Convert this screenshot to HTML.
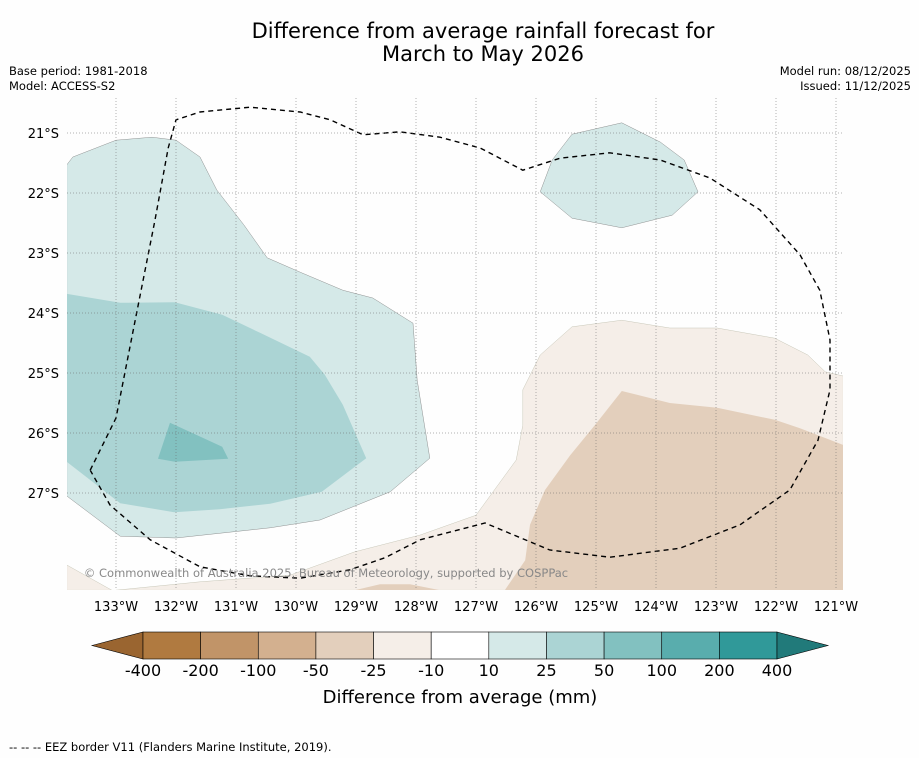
<!DOCTYPE html>
<html><head><meta charset="utf-8"><style>
body{margin:0;background:#fff;width:919px;height:758px;overflow:hidden;font-family:"Liberation Sans","DejaVu Sans",sans-serif}
</style></head><body>
<svg id="chart" width="919" height="758" xmlns="http://www.w3.org/2000/svg" font-family="'DejaVu Sans','Liberation Sans',sans-serif">
<rect width="919" height="758" fill="#fefefe"/>
<text x="483" y="38" font-size="21" text-anchor="middle">Difference from average rainfall forecast for</text>
<text x="483" y="61" font-size="21" text-anchor="middle">March to May 2026</text>
<text x="9" y="75" font-size="11.5">Base period: 1981-2018</text>
<text x="9" y="90" font-size="11.5">Model: ACCESS-S2</text>
<text x="911" y="75" font-size="11.5" text-anchor="end">Model run: 08/12/2025</text>
<text x="911" y="90" font-size="11.5" text-anchor="end">Issued: 11/12/2025</text>
<defs><clipPath id="mapclip"><rect x="67" y="98" width="776" height="492"/></clipPath></defs>
<g id="map" clip-path="url(#mapclip)"></g>
<g id="grid"></g>
<g id="axes"></g>
<text x="326" y="577" font-size="11.5" fill="#888" text-anchor="middle">© Commonwealth of Australia 2025, Bureau of Meteorology, supported by COSPPac</text>
<g id="cbar"></g>
<text x="460" y="703" font-size="18" text-anchor="middle">Difference from average (mm)</text>
<text x="9" y="751" font-size="11.5">--  --  -- EEZ border V11 (Flanders Marine Institute, 2019).</text>
</svg>
<script>
const lonTicks=[-133,-132,-131,-130,-129,-128,-127,-126,-125,-124,-123,-122,-121];
const latTicks=[-21,-22,-23,-24,-25,-26,-27];
const levelLabels=["-400","-200","-100","-50","-25","-10","10","25","50","100","200","400"];
const levelColors=["#b07a40","#c19468","#d3b08f","#e3cfbc","#f5eee8","#ffffff","#d5e9e8","#abd4d4","#82c1c0","#59adad","#309999"];
const lowColor="#9a6530", highColor="#217a7a";
const light10=[[-133.82,-21.53],[-133.72,-21.4],[-133.0,-21.12],[-132.4,-21.07],[-132.0,-21.12],[-131.6,-21.4],[-131.32,-21.95],[-130.87,-22.53],[-130.48,-23.08],[-129.93,-23.32],[-129.22,-23.62],[-128.72,-23.75],[-128.05,-24.17],[-127.98,-25.12],[-127.77,-26.42],[-128.43,-26.98],[-129.6,-27.45],[-130.43,-27.58],[-132.0,-27.75],[-132.93,-27.72],[-133.82,-27.05]];
const light10b=[[-125.93,-21.98],[-125.73,-21.45],[-125.4,-21.02],[-124.57,-20.83],[-123.93,-21.15],[-123.53,-21.45],[-123.3,-21.98],[-123.73,-22.37],[-124.57,-22.58],[-125.4,-22.42]];
const mid25=[[-133.82,-23.68],[-132.93,-23.83],[-132.02,-23.82],[-131.23,-24.03],[-130.6,-24.33],[-129.77,-24.73],[-129.52,-25.03],[-129.22,-25.53],[-128.83,-26.42],[-129.57,-26.98],[-130.43,-27.18],[-131.27,-27.27],[-132.03,-27.32],[-132.93,-27.17],[-133.82,-26.48]];
const dark50=[[-132.1,-25.83],[-131.23,-26.23],[-131.13,-26.43],[-132.02,-26.48],[-132.3,-26.43]];
const dry10=[[-120.88,-25.05],[-121.18,-24.98],[-121.47,-24.7],[-122.02,-24.42],[-122.98,-24.25],[-123.77,-24.25],[-124.57,-24.12],[-125.4,-24.23],[-125.93,-24.7],[-126.22,-25.28],[-126.22,-25.87],[-126.33,-26.45],[-127.0,-27.37],[-127.93,-27.7],[-129.02,-27.98],[-130.1,-28.37],[-131.6,-28.48],[-133.0,-28.62],[-120.88,-28.62]];
const dry10b=[[-133.82,-28.2],[-133.07,-28.62],[-133.82,-28.62]];
const dry25=[[-120.88,-26.2],[-121.6,-25.92],[-122.02,-25.78],[-122.98,-25.58],[-123.77,-25.5],[-124.57,-25.3],[-125.02,-25.87],[-125.43,-26.37],[-125.85,-26.95],[-126.1,-27.53],[-126.18,-28.12],[-126.52,-28.62],[-120.88,-28.62]];
const dry25b=[[-129.02,-28.62],[-128.6,-28.52],[-128.1,-28.52],[-127.6,-28.62]];
const eez=[[-133.43,-26.62],[-133.0,-25.75],[-132.68,-24.12],[-132.35,-22.45],[-132.13,-21.25],[-132.0,-20.78],[-131.6,-20.65],[-130.77,-20.57],[-129.93,-20.65],[-129.43,-20.78],[-128.88,-21.03],[-128.27,-20.98],[-127.6,-21.07],[-126.93,-21.25],[-126.22,-21.62],[-125.6,-21.42],[-124.77,-21.33],[-123.93,-21.45],[-123.1,-21.75],[-122.27,-22.28],[-121.6,-23.03],[-121.27,-23.62],[-121.1,-24.45],[-121.1,-25.28],[-121.3,-26.12],[-121.77,-26.95],[-122.6,-27.53],[-123.6,-27.92],[-124.77,-28.07],[-125.77,-27.95],[-126.85,-27.5],[-127.93,-27.78],[-128.52,-28.08],[-129.1,-28.28],[-129.93,-28.42],[-130.77,-28.38],[-131.6,-28.23],[-132.43,-27.78],[-133.1,-27.2],[-133.43,-26.62]];

const NS="http://www.w3.org/2000/svg";
const X=lon=>116+(lon+133)*60;
const Y=lat=>133+(-21-lat)*60;
function mk(tag,attrs,parent){const e=document.createElementNS(NS,tag);for(const k in attrs)e.setAttribute(k,attrs[k]);parent.appendChild(e);return e;}
function pts(a){return a.map(p=>X(p[0]).toFixed(1)+","+Y(p[1]).toFixed(1)).join(" ");}
const map=document.getElementById('map');
function poly(a,fill,name,stroke){const p=mk('polygon',{points:pts(a),fill:fill,stroke:stroke||'#777','stroke-width':0.4},map);

}
poly(dry10,levelColors[4],'dry-region-10','#bba');
poly(dry10b,levelColors[4],'dry-region-10-left','#bba');
poly(dry25,levelColors[3],'dry-region-25','none');
poly(dry25b,levelColors[3],'dry-region-25-small','none');
poly(light10,levelColors[6],'wet-region-10');
poly(light10b,levelColors[6],'wet-region-10-east');
poly(mid25,levelColors[7],'wet-region-25','none');
poly(dark50,levelColors[8],'wet-region-50','none');
const ez=mk('polyline',{points:pts(eez),fill:'none',stroke:'#000','stroke-width':1.4,'stroke-dasharray':'5,4'},map);


const grid=document.getElementById('grid'),axes=document.getElementById('axes');
lonTicks.forEach(l=>{
 const g=mk('line',{x1:X(l),x2:X(l),y1:98,y2:590,stroke:'#666','stroke-width':0.5,'stroke-dasharray':'1,2'},grid);
 
 
 const t=mk('text',{x:X(l),y:611,'font-size':13,'text-anchor':'middle'},axes);t.textContent=(-l)+"°W";
 
 
});
latTicks.forEach(l=>{
 const g=mk('line',{x1:67,x2:843,y1:Y(l),y2:Y(l),stroke:'#666','stroke-width':0.5,'stroke-dasharray':'1,2'},grid);
 
 
 const t=mk('text',{x:59,y:Y(l)+5,'font-size':13,'text-anchor':'end'},axes);t.textContent=(-l)+"°S";
 
 
});
const cb=document.getElementById('cbar');
const cx0=143,cw=(777-143)/levelColors.length,cy=632,ch=27;
const lt=mk('polygon',{points:`92,${cy+ch/2} ${cx0},${cy} ${cx0},${cy+ch}`,fill:lowColor,stroke:'#000','stroke-width':0.6},cb);


levelColors.forEach((c,i)=>{const r=mk('rect',{x:cx0+i*cw,y:cy,width:cw,height:ch,fill:c,stroke:'#000','stroke-width':0.6},cb);
 
 });
const ht=mk('polygon',{points:`${cx0+levelColors.length*cw},${cy} 828,${cy+ch/2} ${cx0+levelColors.length*cw},${cy+ch}`,fill:highColor,stroke:'#000','stroke-width':0.6},cb);


levelLabels.forEach((s,i)=>{const t=mk('text',{x:cx0+i*cw,y:676,'font-size':16,'text-anchor':'middle'},cb);t.textContent=s;
 
 });
</script>
</body></html>
